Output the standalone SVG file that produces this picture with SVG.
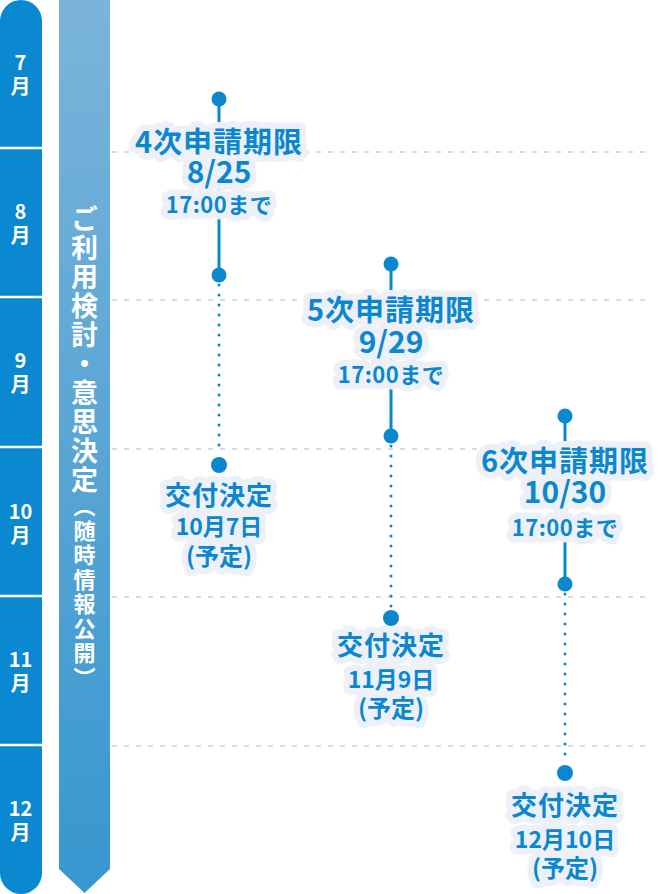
<svg xmlns="http://www.w3.org/2000/svg" width="670" height="894" viewBox="0 0 670 894">
<defs>
<linearGradient id="arrowGrad" x1="0" y1="0" x2="0" y2="1">
<stop offset="0" stop-color="#7bb4da"/>
<stop offset="1" stop-color="#3797cf"/>
</linearGradient>
<style>
.month{font-family:"Noto Sans CJK JP","Noto Sans",sans-serif;font-weight:700;fill:#fff;text-anchor:middle;font-size:20px}
.grid{stroke:#cfcfcf;stroke-width:1.5;stroke-dasharray:5 7;fill:none}
.solid{stroke:#0a87cf;stroke-width:3;fill:none}
.dotted{stroke:#0a87cf;stroke-width:3;stroke-linecap:round;stroke-dasharray:0 10;fill:none}
.dot{fill:#0a87cf}
.lbl{font-family:"Noto Sans CJK JP","Noto Sans",sans-serif;font-weight:700;fill:#0a87cf;text-anchor:middle;stroke:#edf1f7;stroke-width:13;stroke-linejoin:round;paint-order:stroke}
.l1{font-size:29px;letter-spacing:1px}
.l2{font-size:30px}
.l3{font-size:22px;letter-spacing:0.5px}
.d1{font-size:26px;letter-spacing:1px}
.d2{font-size:23px}
.d3{font-size:24px}
.vt{font-family:"Noto Sans CJK JP",sans-serif;font-weight:700;fill:#fff;writing-mode:vertical-rl}
</style>
</defs>

<g id="month-column">
<rect x="0" y="0" width="42" height="894" rx="21" ry="21" fill="#0a88d0"/>
<g stroke="#fff" stroke-width="2.5">
<line x1="0" y1="148" x2="42" y2="148"/>
<line x1="0" y1="297" x2="42" y2="297"/>
<line x1="0" y1="447" x2="42" y2="447"/>
<line x1="0" y1="596" x2="42" y2="596"/>
<line x1="0" y1="745" x2="42" y2="745"/>
</g>
<text class="month" x="20.5" y="70">7</text><text class="month" x="20.5" y="94">月</text>
<text class="month" x="20.5" y="219">8</text><text class="month" x="20.5" y="243">月</text>
<text class="month" x="20.5" y="368">9</text><text class="month" x="20.5" y="392">月</text>
<text class="month" x="20.5" y="519">10</text><text class="month" x="20.5" y="543">月</text>
<text class="month" x="20.5" y="667">11</text><text class="month" x="20.5" y="691">月</text>
<text class="month" x="20.5" y="816">12</text><text class="month" x="20.5" y="840">月</text>
</g>

<g id="process-arrow">
<polygon points="59,0 110,0 110,869 84.5,893 59,869" fill="url(#arrowGrad)"/>
<text class="vt" x="84.5" y="205"><tspan font-size="27px" letter-spacing="2px">ご利用検討・意思決定</tspan><tspan font-size="22px" letter-spacing="2.5px">（随時情報公開）</tspan></text>
</g>

<g id="grid">
<line class="grid" x1="112" y1="152" x2="652" y2="152"/>
<line class="grid" x1="112" y1="300" x2="652" y2="300"/>
<line class="grid" x1="112" y1="449" x2="652" y2="449"/>
<line class="grid" x1="112" y1="597" x2="652" y2="597"/>
<line class="grid" x1="112" y1="746" x2="652" y2="746"/>
</g>

<g id="connectors">
<line class="solid" x1="219" y1="99" x2="219" y2="275"/>
<line class="dotted" x1="219" y1="285" x2="219" y2="455"/>
<line class="solid" x1="391" y1="264" x2="391" y2="436"/>
<line class="dotted" x1="391" y1="446" x2="391" y2="608"/>
<line class="solid" x1="565" y1="416" x2="565" y2="584"/>
<line class="dotted" x1="565" y1="594" x2="565" y2="763"/>
</g>

<g id="dots">
<circle class="dot" cx="219" cy="99" r="7.5"/>
<circle class="dot" cx="219" cy="275" r="7.5"/>
<circle class="dot" cx="219" cy="465" r="8"/>
<circle class="dot" cx="391" cy="264" r="7.5"/>
<circle class="dot" cx="391" cy="436" r="7.5"/>
<circle class="dot" cx="391" cy="618" r="8"/>
<circle class="dot" cx="565" cy="416" r="7.5"/>
<circle class="dot" cx="565" cy="584" r="7.5"/>
<circle class="dot" cx="565" cy="773" r="8"/>
</g>

<g id="deadline-4">
<text class="lbl"><tspan class="l1" x="219" y="153">4次申請期限</tspan><tspan class="l2" x="219" y="183">8/25</tspan><tspan class="l3" x="219" y="213">17:00まで</tspan></text>
</g>
<g id="decision-4">
<text class="lbl"><tspan class="d1" x="219" y="505">交付決定</tspan><tspan class="d2" x="219" y="535">10月7日</tspan><tspan class="d3" x="219" y="565">(予定)</tspan></text>
</g>

<g id="deadline-5">
<text class="lbl"><tspan class="l1" x="391" y="321">5次申請期限</tspan><tspan class="l2" x="391" y="353">9/29</tspan><tspan class="l3" x="391" y="383">17:00まで</tspan></text>
</g>
<g id="decision-5">
<text class="lbl"><tspan class="d1" x="391" y="655">交付決定</tspan><tspan class="d2" x="391" y="688">11月9日</tspan><tspan class="d3" x="391" y="717">(予定)</tspan></text>
</g>

<g id="deadline-6">
<text class="lbl"><tspan class="l1" x="565" y="472">6次申請期限</tspan><tspan class="l2" x="565" y="503">10/30</tspan><tspan class="l3" x="565" y="536">17:00まで</tspan></text>
</g>
<g id="decision-6">
<text class="lbl"><tspan class="d1" x="565" y="815">交付決定</tspan><tspan class="d2" x="565" y="848">12月10日</tspan><tspan class="d3" x="565" y="877">(予定)</tspan></text>
</g>
</svg>
